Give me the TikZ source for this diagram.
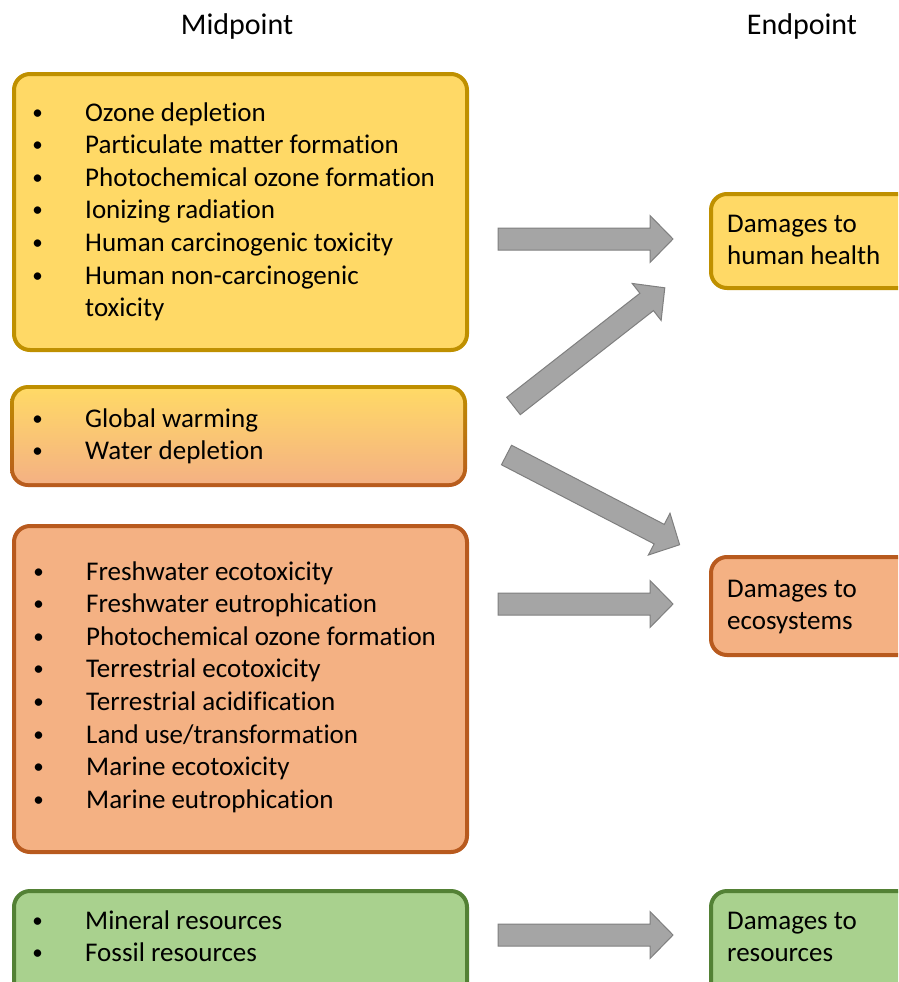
\documentclass[tikz,border=0pt]{standalone}
\usepackage{fontspec}
\setmainfont{Carlito}[Ligatures={NoCommon,NoRare,NoContextual}]
\definecolor{hhFill}{HTML}{FFD966}
\definecolor{hhLine}{HTML}{BF9000}
\definecolor{ecoFill}{HTML}{F4B183}
\definecolor{ecoLine}{HTML}{B85A1E}
\definecolor{resFill}{HTML}{A9D18E}
\definecolor{resLine}{HTML}{538135}
\definecolor{arrFill}{HTML}{A5A5A5}
\definecolor{arrLine}{HTML}{7F7F7F}
\tikzset{
  panel/.style={rectangle, rounded corners=16pt, line width=4pt, inner sep=0pt, anchor=north west},
  txt/.style={anchor=base west, inner sep=0pt, font=\fontsize{27}{32.6}\selectfont},
  heading/.style={anchor=base, inner sep=0pt, font=\fontsize{30}{36}\selectfont},
  bul/.style={anchor=base, inner sep=0pt, font=\fontsize{21}{26}\selectfont},
  arrowline/.style={fill=arrFill, draw=arrLine, line width=1pt, line join=miter},
  pics/blockarrow/.style={code={
    \draw[arrowline] (0,-11) -- ({#1-23},-11) -- ({#1-23},-23.5) -- (#1,0)
      -- ({#1-23},23.5) -- ({#1-23},11) -- (0,11) -- cycle;
  }}
}
\begin{document}
\begin{tikzpicture}[x=1pt,y=-1pt]
\useasboundingbox (0,0) rectangle (898,982);
\clip (0,0) rectangle (898,982);

% column headings
\node[heading] (mid) at (237,35) {Midpoint};
\node[heading] (end) at (802,35) {Endpoint};

% midpoint panels
\node[panel, draw=hhLine, fill=hhFill, minimum width=453pt, minimum height=276pt] (m1) at (12,72) {};
\foreach \t [count=\i] in {Ozone depletion, Particulate matter formation, Photochemical ozone formation,
    Ionizing radiation, Human carcinogenic toxicity, Human non-carcinogenic}{
  \node[bul] (m1b\i) at (37.5,{119+(\i-1)*32.6}) {\textbullet};
  \node[txt] (m1t\i) at (85,{121+(\i-1)*32.6}) {\t};
}
\node[txt] (m1t7) at (85,316.6) {toxicity};

% shared panel: border and fill both run from yellow to orange
\shade[top color=hhLine, bottom color=ecoLine, rounded corners=18pt] (10,385) rectangle (467,487);
\shade[top color=hhFill, bottom color=ecoFill, rounded corners=14pt] (14,389) rectangle (463,483);
\coordinate (m2) at (12,387);
\foreach \t [count=\i] in {Global warming, Water depletion}{
  \node[bul] (m2b\i) at (37.5,{425+(\i-1)*32.6}) {\textbullet};
  \node[txt] (m2t\i) at (85,{427+(\i-1)*32.6}) {\t};
}

\node[panel, draw=ecoLine, fill=ecoFill, minimum width=453pt, minimum height=326pt] (m3) at (12,524) {};
\foreach \t [count=\i] in {Freshwater ecotoxicity, Freshwater eutrophication, Photochemical ozone formation,
    Terrestrial ecotoxicity, Terrestrial acidification, Land use/transformation,
    Marine ecotoxicity, Marine eutrophication}{
  \node[bul] (m3b\i) at (38.5,{578+(\i-1)*32.6}) {\textbullet};
  \node[txt] (m3t\i) at (86,{580+(\i-1)*32.6}) {\t};
}

\node[panel, draw=resLine, fill=resFill, minimum width=453pt, minimum height=140pt] (m4) at (12,889) {};
\foreach \t [count=\i] in {Mineral resources, Fossil resources}{
  \node[bul] (m4b\i) at (37.5,{927+(\i-1)*32.6}) {\textbullet};
  \node[txt] (m4t\i) at (85,{929+(\i-1)*32.6}) {\t};
}

% endpoint panels
\node[panel, draw=hhLine, fill=hhFill, minimum width=240pt, minimum height=94pt] (e1) at (709,192) {};
\node[txt] (e1a) at (727,232) {Damages to};
\node[txt] (e1b) at (727,264.6) {human health};

\node[panel, draw=ecoLine, fill=ecoFill, minimum width=240pt, minimum height=98pt] (e2) at (709,555) {};
\node[txt] (e2a) at (727,597) {Damages to};
\node[txt] (e2b) at (727,629.6) {ecosystems};

\node[panel, draw=resLine, fill=resFill, minimum width=240pt, minimum height=140pt] (e3) at (709,889) {};
\node[txt] (e3a) at (727,929) {Damages to};
\node[txt] (e3b) at (727,961.6) {resources};

% block arrows
\coordinate (a1) at (498,239);
\coordinate (a2) at (513.5,406);
\coordinate (a3) at (506.5,455);
\coordinate (a4) at (498,604);
\coordinate (a5) at (498,935);
\pic at (a1) {blockarrow=175};
\pic[rotate=38] at (a2) {blockarrow=192};
\pic[rotate=-27.4] at (a3) {blockarrow=195};
\pic at (a4) {blockarrow=175};
\pic at (a5) {blockarrow=175};
\end{tikzpicture}
\end{document}
